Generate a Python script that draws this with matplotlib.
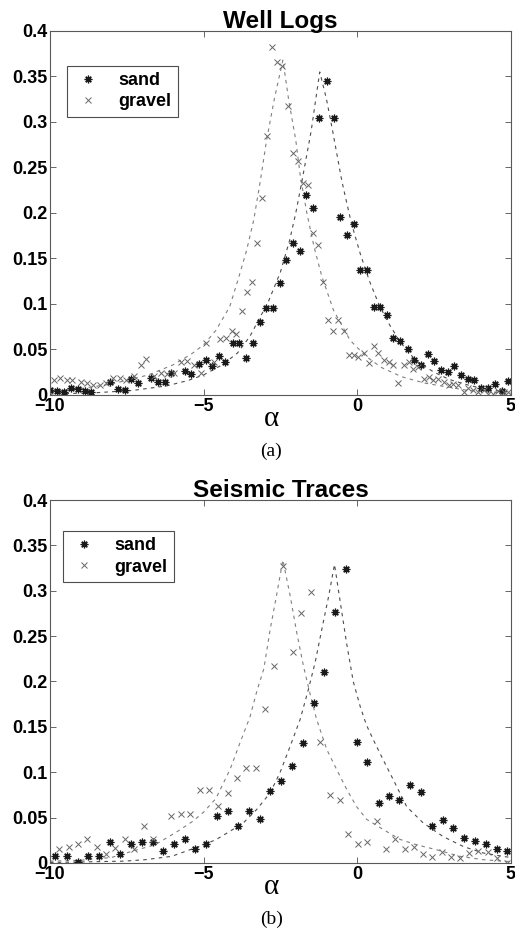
import numpy as np
import matplotlib
matplotlib.use('Agg')
import matplotlib.pyplot as plt

plt.rcParams['font.family'] = ['Liberation Sans', 'DejaVu Sans']

# (a) Well Logs - empirical points
wl_sand_a = [-10.0, -9.76, -9.55, -9.33, -9.10, -8.87, -8.68, -8.03, -7.79, -7.57,
             -7.36, -7.14, -6.70, -6.49, -6.27, -6.06, -5.60, -5.40, -5.16, -4.92,
             -4.72, -4.50, -4.29, -4.04, -3.86, -3.62, -3.40, -3.17, -2.97, -2.75,
             -2.52, -2.31, -2.09, -1.87, -1.67, -1.45, -1.23, -0.99, -0.77, -0.55,
             -0.34, -0.12, 0.10, 0.31, 0.53, 0.75, 0.96, 1.18, 1.40, 1.64,
             1.85, 2.07, 2.29, 2.51, 2.72, 2.94, 3.15, 3.39, 3.61, 3.81,
             4.03, 4.25, 4.49, 4.70, 4.92]
wl_sand_p = [0.0055, 0.004, 0.003, 0.008, 0.0066, 0.004, 0.003, 0.014, 0.007, 0.005,
             0.0175, 0.0135, 0.019, 0.0146, 0.0146, 0.0245, 0.026, 0.0226, 0.0336, 0.038,
             0.032, 0.043, 0.036, 0.057, 0.057, 0.041, 0.0566, 0.080, 0.096, 0.096,
             0.123, 0.1485, 0.167, 0.158, 0.220, 0.205, 0.304, 0.345, 0.304, 0.196,
             0.1755, 0.188, 0.137, 0.1376, 0.0967, 0.0967, 0.0876, 0.0628, 0.0595, 0.051,
             0.038, 0.033, 0.045, 0.037, 0.027, 0.025, 0.032, 0.022, 0.018, 0.017,
             0.008, 0.0073, 0.012, 0.0047, 0.0153]
wl_grav_a = [-9.87, -9.67, -9.44, -9.27, -9.00, -8.81, -8.59, -8.37, -8.16, -7.94,
             -7.72, -7.51, -7.27, -7.05, -6.89, -6.62, -6.40, -6.19, -5.97, -5.75,
             -5.54, -5.32, -5.10, -4.91, -4.67, -4.47, -4.26, -4.07, -3.93, -3.75,
             -3.59, -3.42, -3.26, -3.10, -2.94, -2.77, -2.61, -2.45, -2.26, -2.10,
             -1.94, -1.78, -1.61, -1.45, -1.29, -1.13, -0.95, -0.79, -0.61, -0.44,
             -0.28, -0.12, 0.04, 0.21, 0.37, 0.53, 0.69, 0.86, 1.02, 1.18,
             1.34, 1.51, 1.67, 1.83, 1.99, 2.16, 2.32, 2.48, 2.64, 2.81,
             2.97, 3.13, 3.29, 3.46, 3.62, 3.78, 3.94, 4.11, 4.27, 4.43,
             4.59, 4.76, 4.92]
wl_grav_p = [0.0164, 0.019, 0.0164, 0.0164, 0.0146, 0.0128, 0.011, 0.011, 0.0135, 0.019,
             0.019, 0.0164, 0.021, 0.033, 0.040, 0.021, 0.024, 0.023, 0.0245, 0.036,
             0.037, 0.0325, 0.0245, 0.057, 0.036, 0.061, 0.063, 0.070, 0.067, 0.092,
             0.113, 0.124, 0.167, 0.217, 0.2846, 0.382, 0.366, 0.362, 0.3176, 0.2656,
             0.257, 0.233, 0.231, 0.1776, 0.165, 0.124, 0.082, 0.0704, 0.082, 0.0704,
             0.0438, 0.0438, 0.042, 0.0464, 0.0354, 0.054, 0.0464, 0.038, 0.0358, 0.0325,
             0.0135, 0.0325, 0.0358, 0.029, 0.031, 0.018, 0.020, 0.0164, 0.018, 0.0146,
             0.011, 0.0117, 0.011, 0.0036, 0.0073, 0.006, 0.0036, 0.0055, 0.0007, 0.0007,
             0.0047, 0.0036, 0.0036]

# (a) fitted curves (dashed)
wl_sfit_a = [-10, -8.5, -7.3, -6.2, -5.5, -5.0, -4.4, -3.9, -3.5, -2.9,
             -2.5, -2.2, -2.0, -1.8, -1.5, -1.22, -1.0, -0.8, -0.5, -0.2,
             0.1, 0.4, 0.7, 1.0, 1.4, 1.9, 2.5, 3.0, 3.6, 4.2, 5.0]
wl_sfit_p = [0.001, 0.0025, 0.005, 0.01, 0.016, 0.022, 0.033, 0.046, 0.064, 0.102,
             0.135, 0.17, 0.2, 0.235, 0.29, 0.355, 0.325, 0.29, 0.235, 0.19,
             0.155, 0.125, 0.1, 0.08, 0.058, 0.038, 0.025, 0.017, 0.011, 0.006, 0.003]
wl_gfit_a = [-10, -9, -8, -6.8, -6.0, -5.4, -5.0, -4.6, -4.15, -3.85,
             -3.6, -3.37, -3.15, -2.95, -2.7, -2.42, -2.23, -2.0, -1.85, -1.64,
             -1.4, -1.15, -0.77, -0.23, 0.3, 0.8, 1.45, 2.2, 2.9, 3.6, 4.5, 5]
wl_gfit_p = [0.004, 0.007, 0.012, 0.022, 0.033, 0.045, 0.055, 0.071, 0.097, 0.13,
             0.159, 0.192, 0.236, 0.28, 0.325, 0.368, 0.324, 0.28, 0.24, 0.2,
             0.162, 0.13, 0.093, 0.06, 0.042, 0.03, 0.02, 0.013, 0.009, 0.005, 0.003, 0.002]

# (b) Seismic Traces - empirical points
st_sand_a = [-9.82, -9.46, -9.09, -8.76, -8.41, -8.06, -7.72, -7.35, -7.00, -6.65,
             -6.33, -5.97, -5.61, -5.27, -4.92, -4.56, -4.20, -3.88, -3.51, -3.17,
             -2.83, -2.47, -2.12, -1.78, -1.42, -1.07, -0.71, -0.37, -0.02, 0.33,
             0.70, 1.02, 1.37, 1.72, 2.07, 2.42, 2.78, 3.13, 3.49, 3.84,
             4.18, 4.54, 4.89]
st_sand_p = [0.0073, 0.0073, 0.001, 0.0073, 0.0073, 0.0236, 0.0098, 0.021, 0.0236, 0.0236,
             0.0127, 0.021, 0.0265, 0.0153, 0.021, 0.0516, 0.0575, 0.041, 0.057, 0.049,
             0.079, 0.09, 0.1065, 0.132, 0.176, 0.21, 0.277, 0.324, 0.133, 0.111,
             0.066, 0.074, 0.069, 0.086, 0.078, 0.041, 0.047, 0.038, 0.027, 0.024,
             0.021, 0.0157, 0.0128]
st_grav_a = [-9.69, -9.38, -9.08, -8.79, -8.48, -8.17, -7.87, -7.57, -7.25, -6.94,
             -6.64, -6.05, -5.73, -5.43, -5.12, -4.82, -4.53, -4.21, -3.91, -3.61,
             -3.29, -2.99, -2.72, -2.40, -2.10, -1.82, -1.50, -1.20, -0.88, -0.57,
             -0.29, 0.03, 0.32, 0.63, 0.93, 1.23, 1.56, 1.85, 2.15, 2.44,
             2.75, 3.04, 3.34, 3.63, 3.93, 4.24, 4.54, 4.87]
st_grav_p = [0.0156, 0.018, 0.021, 0.0265, 0.018, 0.0102, 0.0164, 0.0265, 0.0156, 0.041,
             0.0265, 0.0516, 0.0545, 0.0545, 0.08, 0.08, 0.063, 0.077, 0.094, 0.105,
             0.105, 0.17, 0.2175, 0.327, 0.232, 0.276, 0.299, 0.133, 0.0745, 0.069,
             0.032, 0.021, 0.0235, 0.046, 0.015, 0.026, 0.015, 0.018, 0.0103, 0.007,
             0.012, 0.007, 0.005, 0.011, 0.013, 0.012, 0.006, 0.0005]

# (b) fitted curves (dashed)
st_sfit_a = [-10, -7.6, -6.9, -6.04, -5.44, -5.0, -4.58, -4.14, -3.71, -3.27,
             -2.84, -2.52, -2.19, -1.86, -1.6, -1.37, -1.15, -0.93, -0.74, -0.55,
             -0.35, -0.13, 0.1, 0.3, 0.52, 0.84, 1.17, 1.61, 2.15, 2.8,
             3.46, 4.1, 4.74, 5.0]
st_sfit_p = [0.0005, 0.002, 0.0036, 0.0073, 0.0146, 0.02, 0.026, 0.035, 0.044, 0.059,
             0.077, 0.099, 0.128, 0.158, 0.19, 0.221, 0.258, 0.294, 0.329, 0.287,
             0.243, 0.2, 0.172, 0.152, 0.136, 0.114, 0.092, 0.062, 0.044, 0.029,
             0.018, 0.011, 0.0073, 0.006]
st_gfit_a = [-10, -9, -8.0, -7.34, -6.58, -5.84, -5.35, -5.0, -4.6, -4.14,
             -3.82, -3.49, -3.27, -3.04, -2.83, -2.62, -2.42, -2.18, -1.97, -1.75,
             -1.54, -1.32, -0.99, -0.67, -0.34, -0.02, 0.31, 0.84, 1.39, 1.93,
             2.58, 3.34, 4.1, 5.0]
st_gfit_p = [0.002, 0.003, 0.006, 0.0128, 0.02, 0.035, 0.046, 0.056, 0.071, 0.103,
             0.132, 0.161, 0.189, 0.214, 0.258, 0.296, 0.334, 0.294, 0.254, 0.217,
             0.187, 0.158, 0.125, 0.103, 0.081, 0.062, 0.048, 0.037, 0.026, 0.02,
             0.0146, 0.0073, 0.0036, 0.0015]

yticks = [0, 0.05, 0.1, 0.15, 0.2, 0.25, 0.3, 0.35, 0.4]
ytick_labels = ['0', '0.05', '0.1', '0.15', '0.2', '0.25', '0.3', '0.35', '0.4']
xticks = [-10, -5, 0, 5]
xtick_labels = ['\u221210', '\u22125', '0', '5']

dash = (0, (3.2, 3.8))
asterisk = (8, 2, 0)   # matlab style '*'


def panel(ax, title, caption, sa, sp, ga, gp, sfa, sfp, gfa, gfp, leg_pos):
    ax.plot(gfa, gfp, color='0.5', linestyle=dash, linewidth=0.8)
    ax.plot(sfa, sfp, color='0.3', linestyle=dash, linewidth=0.8)
    ax.plot(sa, sp, linestyle='none', marker=asterisk, markersize=5.5, color='0.1',
            markeredgewidth=0.9, label='sand')
    ax.plot(ga, gp, linestyle='none', marker='x', markersize=4, color='0.4',
            markeredgewidth=0.7, label='gravel')
    ax.set_xlim(-10, 5)
    ax.set_ylim(0, 0.4)
    ax.set_xticks(xticks)
    ax.set_xticklabels(xtick_labels, fontsize=13, fontweight='bold')
    ax.set_yticks(yticks)
    ax.set_yticklabels(ytick_labels, fontsize=13, fontweight='bold')
    ax.tick_params(direction='in', length=4, width=0.6, top=True, right=True,
                   pad=2, color='0.3')
    for s in ax.spines.values():
        s.set_linewidth(0.8)
        s.set_color('0.35')
    ax.set_title(title, fontsize=17.5, fontweight='bold', pad=2)
    ax.text(0.481, -0.065, '\u03b1', transform=ax.transAxes, ha='center', va='center',
            fontsize=21, family=['Liberation Serif', 'DejaVu Serif'])
    ax.text(0.48, -0.155, caption, transform=ax.transAxes, ha='center', va='center',
            fontsize=14, family=['Liberation Serif', 'DejaVu Serif'])
    leg = ax.legend(loc='upper left', bbox_to_anchor=leg_pos,
                    prop={'weight': 'bold', 'size': 13}, fancybox=False,
                    edgecolor='0.3', framealpha=1, borderpad=0.35,
                    handletextpad=0.9, handlelength=1.6, labelspacing=0.25,
                    borderaxespad=0)
    leg.get_frame().set_linewidth(0.8)


fig = plt.figure(figsize=(5.15, 9.42), dpi=100)
ax1 = fig.add_axes([0.097, 0.5807, 0.895, 0.3864])
panel(ax1, 'Well Logs', '(a)', wl_sand_a, wl_sand_p, wl_grav_a, wl_grav_p,
      wl_sfit_a, wl_sfit_p, wl_gfit_a, wl_gfit_p, (0.037, 0.905))

ax2 = fig.add_axes([0.097, 0.0839, 0.895, 0.3853])
panel(ax2, 'Seismic Traces', '(b)', st_sand_a, st_sand_p, st_grav_a, st_grav_p,
      st_sfit_a, st_sfit_p, st_gfit_a, st_gfit_p, (0.028, 0.915))

fig.savefig('out.png', dpi=100)
